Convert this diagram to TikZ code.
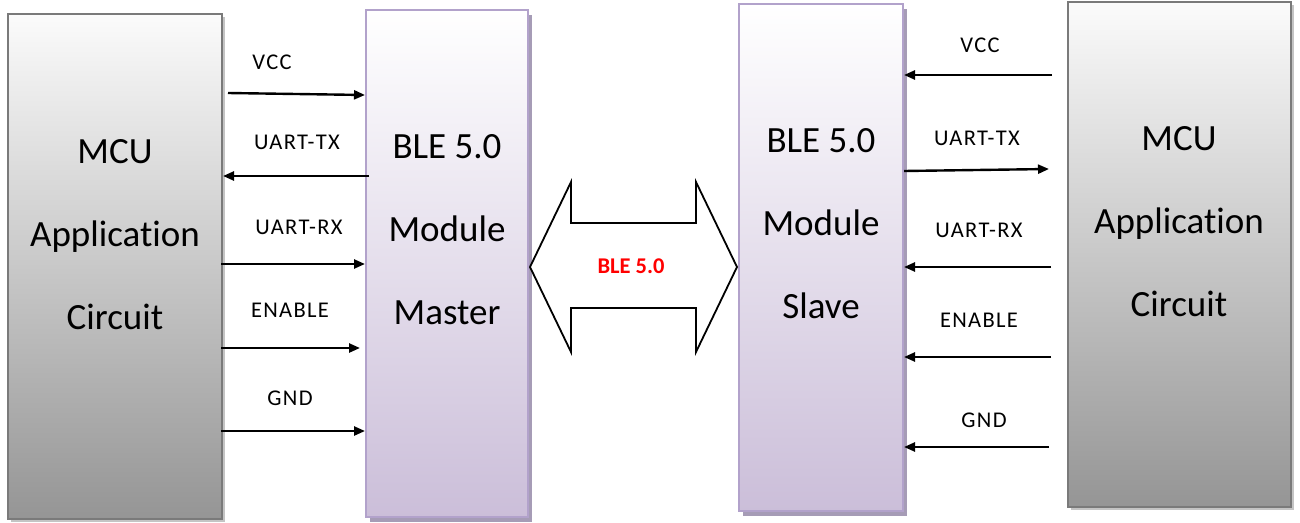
\documentclass[tikz,border=0pt]{standalone}
\usepackage{fontspec}
\setmainfont{Carlito}[Ligatures=CommonOff]
\newfontfamily\lblfont{Carlito}[Ligatures=CommonOff, LetterSpace=6]
\usetikzlibrary{arrows.meta,shadows,calc}

\definecolor{mcuedge}{HTML}{7A7A7A}
\definecolor{mcutop}{HTML}{FBFBFB}
\definecolor{mcubot}{HTML}{959595}
\definecolor{bleedge}{HTML}{B2A2CB}
\definecolor{bletop}{HTML}{FFFFFF}
\definecolor{blebot}{HTML}{CBBED9}
\definecolor{bleshadow}{HTML}{A69CB6}
\definecolor{mcushadow}{HTML}{C4C4C4}

\tikzset{
  mcubox/.style={draw=mcuedge, line width=2pt, shading=axis,
    top color=mcutop, bottom color=mcubot, inner sep=0pt,
    drop shadow={shadow xshift=3pt, shadow yshift=-3pt, fill=mcushadow, opacity=1}},
  blebox/.style={draw=bleedge, line width=2pt, shading=axis,
    top color=bletop, bottom color=blebot, inner sep=0pt,
    drop shadow={shadow xshift=4pt, shadow yshift=-5pt, fill=bleshadow, opacity=1}},
  boxtext/.style={align=center, font=\fontsize{37}{83}\selectfont, inner sep=0pt},
  sig/.style={line width=2.4pt, -{Triangle[length=11pt,width=9pt]}},
  siglabel/.style={font=\lblfont\fontsize{22.5}{26}\selectfont, inner sep=0pt},
  link/.style={draw=black, fill=white, line width=1.8pt, line join=miter},
}

\begin{document}
\begin{tikzpicture}[x=1pt, y=-1pt]
\useasboundingbox (0,0) rectangle (1300,522);

% the four blocks
\node[mcubox, minimum width=214pt, minimum height=505pt] (mcuL) at (115,266.5) {};
\node[blebox, minimum width=162pt, minimum height=507pt] (master) at (447,263.5) {};
\node[blebox, minimum width=164pt, minimum height=507pt] (slave) at (821,257.5) {};
\node[mcubox, minimum width=223pt, minimum height=505pt] (mcuR) at (1179.5,254.5) {};

% block captions
\node[boxtext] (mcuLtxt) at (115,235) {MCU\\Application\\Circuit};
\node[boxtext] (mastertxt) at (447,230) {BLE 5.0\\Module\\Master};
\node[boxtext] (slavetxt) at (821,224) {BLE 5.0\\Module\\Slave};
\node[boxtext] (mcuRtxt) at (1179,222) {MCU\\Application\\Circuit};

% wireless link between the two modules
\draw[link] (530,267) -- (571,182) -- (571,223) -- (696,223) -- (696,182)
  -- (737,267) -- (696,352) -- (696,308) -- (571,308) -- (571,352) -- cycle;
\node[font=\bfseries\fontsize{22.5}{24}\selectfont, text=red, inner sep=0pt] (linktxt) at (631,266) {BLE 5.0};

% master side wiring
\draw[sig] ([xshift=5pt]mcuL.east |- 0,93) -- (master.west |- 0,95);
\draw[sig] ([xshift=4pt]master.west |- 0,176) -- (mcuL.east |- 0,176);
\draw[sig] ([xshift=-2pt]mcuL.east |- 0,264) -- (master.west |- 0,264);
\draw[sig] ([xshift=-2pt]mcuL.east |- 0,348) -- ([xshift=-5pt]master.west |- 0,348);
\draw[sig] ([xshift=-2pt]mcuL.east |- 0,431) -- (master.west |- 0,431);

\node[siglabel] (lvcc) at (272,62) {VCC};
\node[siglabel] (ltx) at (297,142) {UART-TX};
\node[siglabel] (lrx) at (299,227) {UART-RX};
\node[siglabel] (len) at (290,310) {ENABLE};
\node[siglabel] (lgnd) at (290,398) {GND};

% slave side wiring
\draw[sig] ([xshift=-15pt]mcuR.west |- 0,75) -- (slave.east |- 0,75);
\draw[sig] (slave.east |- 0,171) -- ([xshift=-18pt]mcuR.west |- 0,169);
\draw[sig] ([xshift=-16pt]mcuR.west |- 0,267) -- (slave.east |- 0,267);
\draw[sig] ([xshift=-16pt]mcuR.west |- 0,357) -- (slave.east |- 0,357);
\draw[sig] ([xshift=-18pt]mcuR.west |- 0,447) -- (slave.east |- 0,447);

\node[siglabel] (rvcc) at (980,45) {VCC};
\node[siglabel] (rtx) at (977,138) {UART-TX};
\node[siglabel] (rrx) at (979,230) {UART-RX};
\node[siglabel] (ren) at (979,320) {ENABLE};
\node[siglabel] (rgnd) at (984,420) {GND};
\end{tikzpicture}
\end{document}
